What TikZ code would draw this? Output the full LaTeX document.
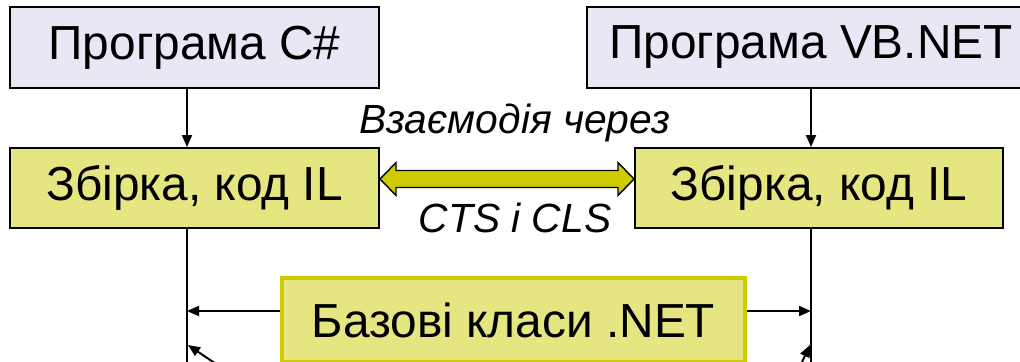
\documentclass[tikz,border=0pt]{standalone}
\usepackage{fontspec}
\setmainfont{Liberation Sans}
\usepackage{xcolor}
\definecolor{progboxfill}{rgb}{0.91,0.91,0.96}
\definecolor{ilboxfill}{rgb}{0.90,0.90,0.51}
\definecolor{baseboxdraw}{rgb}{0.80,0.80,0.00}
\definecolor{bigarrowfill}{rgb}{0.80,0.80,0.00}
\usetikzlibrary{arrows.meta}

\begin{document}
\begin{tikzpicture}[
  >={Triangle[length=3mm, width=2.5mm]},
  every node/.style={align=center, inner sep=0pt, font=\fontsize{34}{40}\selectfont},
  progbox/.style ={rectangle, draw=black, line width=1.4pt, fill=progboxfill, minimum height=20.25mm},
  ilbox/.style   ={rectangle, draw=black, line width=1.4pt, fill=ilboxfill,   minimum height=20mm, minimum width=92.25mm},
  basebox/.style ={rectangle, draw=baseboxdraw, line width=2.4pt, fill=ilboxfill, minimum height=21mm, minimum width=115.75mm},
  talk/.style    ={font=\fontsize{29}{34}\selectfont\itshape, anchor=base},
  flow/.style    ={->, line width=1.4pt, draw=black},
  bigarrow/.style={line width=1pt, draw=black, fill=bigarrowfill, line join=miter}
]
\useasboundingbox (0,0) rectangle (25.5,-9.025);

% the two lanes that the vertical connectors run along
\coordinate (laneL) at (4.675,0);
\coordinate (laneR) at (20.275,0);

\node[progbox, minimum width=92.25mm] (prgcs) at (4.8625,-1.1875) {Програма C\#};
\node[progbox, minimum width=112mm]   (prgvb) at (20.275,-1.1875) {Програма VB.NET};

\node[ilbox] (ilcs) at (4.8625,-4.7) {Збірка, код IL};
\node[ilbox, minimum width=92mm] (ilvb) at (20.475,-4.7) {Збірка, код IL};

\node[talk] (talktop) at (12.875,-3.325) {Взаємодія через};
\node[talk] (talkbot) at (12.875,-5.8)   {CTS і CLS};

\node[basebox] (base) at (12.8375,-8.0) {Базові класи .NET};

% loose ends below the visible area
\coordinate (downL) at (4.675,-9.3);
\coordinate (downR) at (20.275,-9.3);
\coordinate (fromL) at (5.55,-9.2);
\coordinate (tipL)  at (4.7,-8.625);
\coordinate (fromR) at (19.98,-9.2);
\coordinate (tipR)  at (20.25,-8.625);

\draw[flow] (laneL |- prgcs.south) -- (laneL |- ilcs.north);
\draw[flow] (laneR |- prgvb.south) -- (laneR |- ilvb.north);

% fat two-headed arrow between the assemblies
\draw[bigarrow] ([yshift=2.25mm]ilcs.east) -- ++(4mm,4.1mm) -- ++(0,-1.975mm)
  -- ([shift={(-4mm,4.375mm)}]ilvb.west) -- ++(0,1.975mm)
  -- ([yshift=2.25mm]ilvb.west) -- ++(-4mm,-4.1mm) -- ++(0,1.975mm)
  -- ([shift={(4mm,0.125mm)}]ilcs.east) -- ++(0,-1.975mm) -- cycle;

\draw[line width=1.4pt] (laneL |- ilcs.south) -- (downL);
\draw[line width=1.4pt] (laneR |- ilvb.south) -- (downR);

\draw[flow] ([yshift=2.25mm]base.west) -- ([yshift=2.25mm]base.west -| laneL);
\draw[flow] ([yshift=2.25mm]base.east) -- ([yshift=2.25mm]base.east -| laneR);

\draw[flow] (fromL) -- (tipL);
\draw[flow] (fromR) -- (tipR);

\end{tikzpicture}
\end{document}
